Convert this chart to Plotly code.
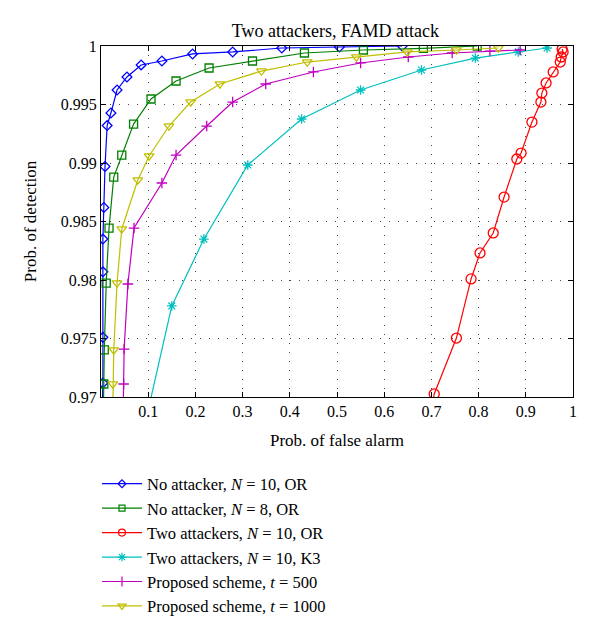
import plotly.graph_objects as go

# ---- data ----
blue_x = [0.001, 0.004, 0.004, 0.004, 0.004, 0.006, 0.0085, 0.013, 0.021, 0.034, 0.055, 0.085, 0.129, 0.194, 0.279, 0.383, 0.505, 0.638]
blue_y = [0.966, 0.9712, 0.9751, 0.9807, 0.9835, 0.9862, 0.9897, 0.9932, 0.99427, 0.99624, 0.99735, 0.99838, 0.99872, 0.99932, 0.99949, 0.99983, 0.99991, 1.0]

green_x = [0.004, 0.006, 0.007, 0.011, 0.017, 0.027, 0.044, 0.069, 0.106, 0.159, 0.229, 0.321, 0.431, 0.556, 0.683, 0.797]
green_y = [0.966, 0.97111, 0.97402, 0.97974, 0.98444, 0.9888, 0.99068, 0.99333, 0.99547, 0.99701, 0.99812, 0.99872, 0.9994, 0.99966, 0.9998, 1.0]

red_x = [0.69, 0.706, 0.753, 0.784, 0.803, 0.831, 0.854, 0.881, 0.890, 0.913, 0.932, 0.934, 0.943, 0.958, 0.973, 0.975, 0.979, 0.977]
red_y = [0.966, 0.97026, 0.97504, 0.98009, 0.98231, 0.98402, 0.98709, 0.99034, 0.99085, 0.9935, 0.99521, 0.99598, 0.99684, 0.99778, 0.99863, 0.99906, 0.99949, 0.99974]

cyan_x = [0.095, 0.150, 0.218, 0.311, 0.425, 0.550, 0.679, 0.793, 0.884, 0.945]
cyan_y = [0.968, 0.97778, 0.9835, 0.98983, 0.99376, 0.99624, 0.99795, 0.99897, 0.99949, 0.99983]

mag_x = [0.046, 0.048, 0.049, 0.057, 0.070, 0.129, 0.159, 0.224, 0.279, 0.349, 0.450, 0.550, 0.651, 0.744, 0.824, 0.888]
mag_y = [0.966, 0.97111, 0.9741, 0.97966, 0.98444, 0.98829, 0.99068, 0.99316, 0.99521, 0.99675, 0.99778, 0.99855, 0.99906, 0.9994, 0.99957, 0.99966]

yel_x = [0.024, 0.025, 0.027, 0.034, 0.044, 0.078, 0.102, 0.144, 0.190, 0.252, 0.340, 0.437, 0.541, 0.649, 0.753, 0.842]
yel_y = [0.966, 0.97111, 0.97402, 0.97974, 0.98436, 0.98855, 0.9906, 0.99316, 0.99521, 0.99675, 0.99786, 0.99863, 0.99906, 0.99949, 0.99966, 0.99983]

x_ticks = [0.1, 0.2, 0.3, 0.4, 0.5, 0.6, 0.7, 0.8, 0.9, 1.0]
x_tick_labels = ["0.1", "0.2", "0.3", "0.4", "0.5", "0.6", "0.7", "0.8", "0.9", "1"]
y_ticks = [0.97, 0.975, 0.98, 0.985, 0.99, 0.995, 1.0]
y_tick_labels = ["0.97", "0.975", "0.98", "0.985", "0.99", "0.995", "1"]

names = [
    "No attacker, <i>N</i> = 10, OR",
    "No attacker, <i>N</i> = 8, OR",
    "Two attackers, <i>N</i> = 10, OR",
    "Two attackers, <i>N</i> = 10, K3",
    "Proposed scheme, <i>t</i> = 500",
    "Proposed scheme, <i>t</i> = 1000",
]

FONT = "Liberation Serif, Times New Roman, serif"

# colour, symbol, plot marker size, legend marker size
styles = [
    ("#0000FF", "diamond-open", 7.5, 6),
    ("#008000", "square-open", 8, 6),
    ("#FF0000", "circle-open", 10, 7),
    ("#00BFBF", "asterisk-open", 8, 7),
    ("#BF00BF", "cross-thin-open", 7.5, 7),
    ("#BFBF00", "triangle-down-open", 8.5, 7),
]
data = [(blue_x, blue_y), (green_x, green_y), (red_x, red_y),
        (cyan_x, cyan_y), (mag_x, mag_y), (yel_x, yel_y)]

fig = go.Figure()
for (xs, ys), (col, sym, sz, lsz) in zip(data, styles):
    fig.add_trace(go.Scatter(
        x=xs, y=ys, mode="lines+markers", showlegend=False,
        line=dict(color=col, width=1.2),
        marker=dict(symbol=sym, size=sz, color=col, line=dict(color=col, width=1.3)),
    ))
# legend-only entries with smaller symbols
for nm, (col, sym, sz, lsz) in zip(names, styles):
    fig.add_trace(go.Scatter(
        x=[None], y=[None], mode="lines+markers", name=nm,
        line=dict(color=col, width=1.2),
        marker=dict(symbol=sym, size=lsz, color=col, line=dict(color=col, width=1.2)),
    ))

axis_common = dict(
    showline=True, linecolor="black", linewidth=1, mirror="ticks",
    ticks="inside", ticklen=5, tickcolor="black",
    showgrid=True, gridcolor="#444444", gridwidth=1, griddash="1px,8px",
    zeroline=False,
    tickfont=dict(family=FONT, size=16, color="black"),
    title_font=dict(family=FONT, size=17, color="black"),
)

fig.update_xaxes(range=[0, 1], tickvals=x_ticks, ticktext=x_tick_labels,
                 title_text="Prob. of false alarm", title_standoff=14, **axis_common)
fig.update_yaxes(range=[0.97, 1.0], tickvals=y_ticks, ticktext=y_tick_labels,
                 title_text="Prob. of detection", title_standoff=19, **axis_common)

fig.update_layout(
    width=592, height=628,
    margin=dict(l=93, r=27, t=38, b=239, autoexpand=False),
    paper_bgcolor="white", plot_bgcolor="white",
    title=dict(text="Two attackers, FAMD attack", x=0.553, xanchor="center",
               y=0.9634, yanchor="middle",
               font=dict(family=FONT, size=18, color="black")),
    legend=dict(x=-0.0085, y=-0.198, xanchor="left", yanchor="top",
                font=dict(family=FONT, size=16.5, color="black"),
                bgcolor="rgba(255,255,255,0)", tracegroupgap=0,
                itemwidth=40),
    showlegend=True,
)

fig.write_html("out.html")
